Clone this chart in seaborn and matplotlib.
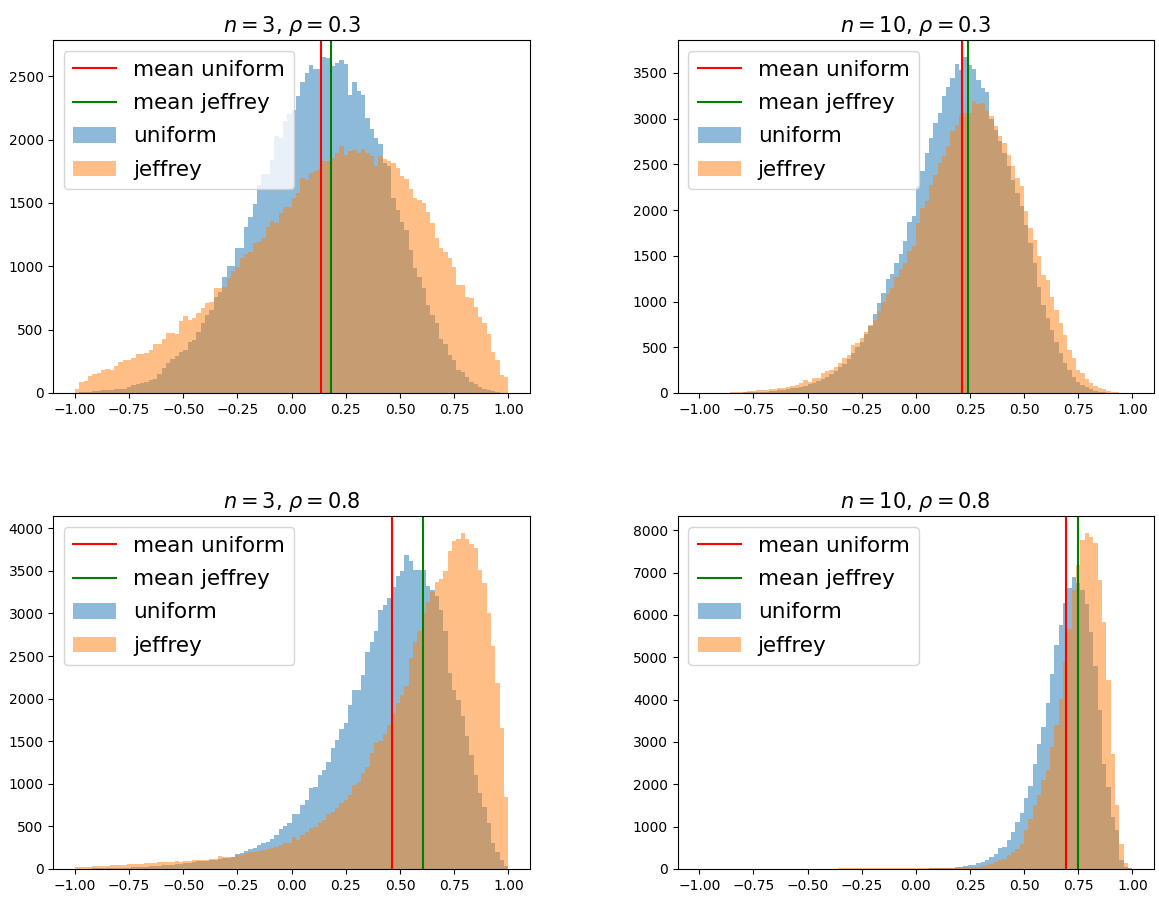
import numpy as np
import pandas as pd
import matplotlib
matplotlib.use("Agg")
import matplotlib.pyplot as plt
import matplotlib.patches as mpatches
from matplotlib.lines import Line2D
import seaborn as sns

# Posterior samples of the correlation coefficient, binned into 100 bins on [-1, 1]
N_BINS = 100
BIN_RANGE = (-1.0, 1.0)

panel_n = [3, 10, 3, 10]
panel_rho = [0.3, 0.3, 0.8, 0.8]

# n = 3, rho = 0.3
uniform_n3_r03 = [
    3, 5, 8, 10, 13, 16, 21, 21, 26, 29,
    34, 34, 47, 61, 69, 79, 87, 100, 113, 150,
    200, 240, 272, 290, 324, 338, 403, 417, 483, 549,
    614, 654, 760, 799, 918, 1002, 1002, 1142, 1142, 1313,
    1392, 1492, 1643, 1730, 1730, 1840, 2030, 2012, 2150, 2200,
    2236, 2342, 2452, 2526, 2592, 2553, 2553, 2653, 2645, 2584,
    2605, 2627, 2597, 2355, 2455, 2381, 2355, 2170, 2083, 2012,
    1965, 1814, 1788, 1537, 1445, 1353, 1287, 1129, 984, 918,
    825, 694, 614, 549, 430, 390, 298, 258, 179, 166,
    127, 87, 74, 47, 34, 21, 13, 8, 3, 2,
]
jeffrey_n3_r03 = [
    34, 87, 92, 134, 148, 161, 179, 187, 179, 211,
    248, 258, 258, 274, 311, 306, 319, 338, 385, 390,
    430, 477, 475, 469, 567, 609, 580, 588, 628, 672,
    712, 720, 825, 825, 838, 904, 960, 997, 1068, 1094,
    1115, 1181, 1195, 1221, 1313, 1358, 1340, 1419, 1464, 1470,
    1537, 1577, 1696, 1682, 1735, 1748, 1767, 1827, 1827, 1854,
    1893, 1951, 1880, 1907, 1920, 1893, 1925, 1893, 1872, 1793,
    1872, 1846, 1827, 1814, 1775, 1709, 1688, 1609, 1537, 1524,
    1498, 1432, 1345, 1221, 1142, 1115, 1063, 997, 852, 852,
    759, 746, 680, 601, 549, 469, 324, 258, 140, 127,
]

# n = 10, rho = 0.3
uniform_n10_r03 = [
    0, 0, 0, 0, 0, 2, 3, 3, 4, 5,
    6, 7, 9, 11, 13, 16, 20, 24, 30, 36,
    42, 50, 58, 68, 80, 95, 110, 128, 150, 180,
    210, 240, 280, 320, 370, 440, 500, 560, 640, 730,
    860, 980, 1090, 1250, 1300, 1420, 1520, 1657, 1865, 1938,
    2259, 2424, 2624, 2789, 2953, 3062, 3252, 3347, 3446, 3592,
    3537, 3676, 3581, 3544, 3427, 3336, 3289, 3000, 2880, 2760,
    2620, 2480, 2330, 2190, 2040, 1840, 1640, 1420, 1164, 964,
    818, 690, 562, 434, 325, 252, 179, 124, 88, 62,
    40, 26, 15, 7, 4, 2, 1, 1, 0, 0,
]
jeffrey_n10_r03 = [
    0, 0, 0, 0, 0, 3, 5, 7, 10, 12,
    15, 18, 25, 30, 33, 36, 42, 47, 52, 58,
    62, 77, 90, 113, 142, 124, 160, 165, 215, 245,
    250, 288, 325, 380, 416, 526, 544, 599, 672, 745,
    800, 900, 1000, 1080, 1150, 1270, 1360, 1420, 1548, 1602,
    1858, 2022, 2095, 2278, 2387, 2515, 2588, 2697, 2862, 2935,
    3044, 3062, 3062, 3190, 3165, 3172, 3081, 3026, 2924, 2814,
    2734, 2606, 2478, 2351, 2259, 1986, 1803, 1668, 1493, 1292,
    1237, 1055, 909, 763, 635, 471, 380, 252, 215, 150,
    106, 77, 51, 40, 22, 15, 7, 4, 1, 0,
]

# n = 3, rho = 0.8
uniform_n3_r08 = [
    2, 3, 4, 5, 6, 7, 8, 9, 10, 12,
    13, 15, 17, 19, 21, 24, 27, 30, 34, 38,
    42, 47, 52, 58, 64, 70, 76, 83, 90, 92,
    95, 100, 108, 118, 128, 135, 142, 176, 190, 216,
    235, 250, 282, 300, 321, 350, 400, 470, 510, 545,
    647, 647, 753, 811, 949, 968, 1105, 1164, 1262, 1419,
    1517, 1642, 1713, 1929, 2105, 2105, 2281, 2544, 2662, 2791,
    3046, 3105, 3183, 3312, 3438, 3497, 3685, 3614, 3516, 3516,
    3516, 3328, 3280, 3210, 3046, 2791, 2301, 2105, 1980, 1791,
    1556, 1341, 1105, 890, 733, 537, 302, 204, 106, 35,
]
jeffrey_n3_r08 = [
    20, 22, 25, 28, 33, 35, 37, 40, 42, 45,
    47, 50, 53, 56, 60, 63, 66, 70, 75, 78,
    80, 82, 85, 90, 88, 90, 95, 100, 104, 106,
    110, 115, 118, 150, 137, 140, 145, 160, 170, 184,
    195, 204, 215, 225, 235, 243, 260, 280, 300, 302,
    372, 341, 400, 439, 478, 498, 537, 576, 647, 674,
    713, 772, 811, 870, 988, 1027, 1125, 1203, 1360, 1478,
    1500, 1588, 1693, 1831, 1948, 2046, 2144, 2477, 2662, 2791,
    3007, 3132, 3250, 3367, 3406, 3497, 3732, 3849, 3869, 3947,
    3869, 3810, 3771, 3516, 3352, 3007, 2615, 2183, 1654, 843,
]

# n = 10, rho = 0.8
uniform_n10_r08 = [
    0, 0, 0, 0, 0, 0, 0, 0, 0, 0,
    0, 0, 0, 0, 0, 0, 0, 0, 0, 0,
    0, 0, 0, 0, 0, 0, 0, 0, 0, 0,
    0, 0, 0, 0, 0, 0, 0, 0, 0, 0,
    0, 0, 0, 0, 0, 1, 1, 2, 2, 3,
    4, 6, 8, 12, 16, 22, 26, 30, 34, 45,
    59, 75, 83, 106, 138, 177, 217, 280, 358, 500,
    516, 674, 871, 1107, 1320, 1682, 1950, 2470, 2959, 3353,
    3920, 4614, 5284, 5757, 6285, 6647, 6899, 6757, 6584, 6253,
    5599, 4787, 3747, 2487, 1935, 1226, 910, 217, 59, 20,
]
jeffrey_n10_r08 = [
    0, 0, 0, 0, 0, 0, 0, 0, 0, 0,
    0, 0, 0, 0, 0, 0, 0, 0, 0, 0,
    0, 0, 0, 0, 0, 0, 0, 0, 0, 0,
    0, 0, 14, 18, 20, 20, 21, 22, 22, 23,
    23, 24, 24, 24, 25, 25, 25, 26, 26, 26,
    27, 27, 27, 28, 28, 28, 29, 30, 31, 33,
    36, 40, 45, 50, 57, 67, 83, 122, 161, 201,
    240, 319, 398, 477, 595, 910, 1186, 1501, 1737, 2092,
    2329, 2880, 3392, 4022, 4889, 5678, 6584, 7175, 7781, 7939,
    7845, 7687, 6820, 5836, 4456, 2722, 1501, 595, 138, 28,
]

uniform_counts = [uniform_n3_r03, uniform_n10_r03, uniform_n3_r08, uniform_n10_r08]
jeffrey_counts = [jeffrey_n3_r03, jeffrey_n10_r03, jeffrey_n3_r08, jeffrey_n10_r08]

# Posterior means under each prior
mean_uniform = [0.137, 0.211, 0.463, 0.692]
mean_jeffrey = [0.181, 0.242, 0.604, 0.750]

BLUE = "#1f77b4"
ORANGE = "#ff7f0e"

edges = np.linspace(BIN_RANGE[0], BIN_RANGE[1], N_BINS + 1)
centers = 0.5 * (edges[:-1] + edges[1:])

fig, axes = plt.subplots(2, 2, figsize=(11.59, 8.98), dpi=100)
W, H = 1159.0, 898.0
positions = [
    (53.3, 40, 530, 393),
    (677.7, 40, 1154, 393),
    (53.3, 516, 530, 869),
    (677.7, 516, 1154, 869),
]

for k, ax in enumerate(axes.flat):
    x0, y0, x1, y1 = positions[k]
    ax.set_position([x0 / W, 1 - y1 / H, (x1 - x0) / W, (y1 - y0) / H])

    for counts, color in ((uniform_counts[k], BLUE), (jeffrey_counts[k], ORANGE)):
        df = pd.DataFrame({"r": centers, "count": np.asarray(counts, dtype=float)})
        sns.histplot(data=df, x="r", weights="count", bins=N_BINS, binrange=BIN_RANGE,
                     color=color, alpha=0.5, linewidth=0, edgecolor="none", ax=ax)

    ax.axvline(mean_uniform[k], color="r", linewidth=1.5)
    ax.axvline(mean_jeffrey[k], color="g", linewidth=1.5)

    ax.set_xlabel("")
    ax.set_ylabel("")
    ax.set_title(r"$n={}$, $\rho={}$".format(panel_n[k], panel_rho[k]), fontsize=15)
    ax.tick_params(labelsize=10)

    handles = [
        Line2D([], [], color="r", linewidth=1.5),
        Line2D([], [], color="g", linewidth=1.5),
        mpatches.Patch(facecolor=BLUE, alpha=0.5, linewidth=0),
        mpatches.Patch(facecolor=ORANGE, alpha=0.5, linewidth=0),
    ]
    ax.legend(handles, ["mean uniform", "mean jeffrey", "uniform", "jeffrey"],
              loc="upper left", fontsize=15.5, labelspacing=0.62, borderpad=0.42)

fig.savefig("out.png", dpi=100)
